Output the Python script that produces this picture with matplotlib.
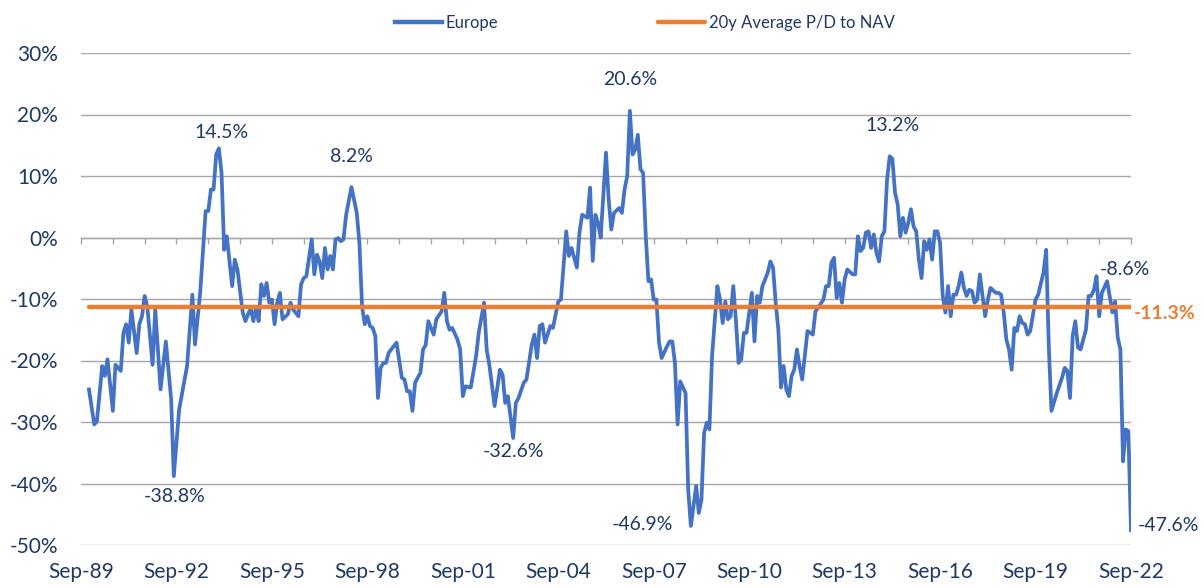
import matplotlib
matplotlib.use("Agg")
import matplotlib.pyplot as plt

# ---- data (months since Sep-1989, premium/discount to NAV in %) ----
month_offset = [
    3, 5, 6, 8, 9, 10, 12, 13, 15, 16, 17, 18, 19, 21, 22, 23, 24, 25, 27, 28,
    30, 32, 34, 35, 37, 40, 42, 43, 45, 47, 48, 49, 50, 51, 52, 53, 54, 55, 57, 58,
    59, 61, 62, 63, 64, 65, 66, 67, 68, 69, 70, 71, 72, 73, 74, 75, 76, 78, 79, 80,
    82, 83, 84, 85, 87, 88, 89, 90, 91, 92, 93, 94, 95, 96, 97, 98, 99, 100, 102, 104,
    105, 106, 107, 108, 109, 110, 111, 112, 113, 114, 115, 116, 117, 119, 121, 122, 123, 124, 125, 126,
    128, 129, 130, 131, 133, 134, 136, 137, 138, 139, 140, 142, 143, 144, 145, 147, 149, 150, 152, 153,
    154, 156, 158, 159, 160, 161, 163, 164, 165, 167, 168, 170, 171, 172, 173, 174, 175, 177, 178, 180,
    181, 183, 184, 185, 187, 188, 189, 191, 192, 193, 194, 195, 196, 198, 199, 200, 201, 203, 204, 205,
    206, 207, 208, 209, 210, 211, 212, 213, 214, 215, 216, 217, 218, 219, 221, 222, 223, 224, 225, 226,
    228, 229, 230, 232, 233, 234, 235, 236, 237, 238, 240, 241, 242, 243, 244, 245, 246, 247, 248, 249,
    250, 251, 253, 254, 255, 256, 257, 259, 260, 261, 262, 263, 264, 265, 266, 267, 268, 269, 270, 271,
    272, 274, 276, 277, 280, 281, 282, 283, 284, 285, 286, 287, 288, 289, 291, 292, 293, 294, 295, 296,
    297, 298, 299, 300, 301, 302, 303, 304, 305, 306, 307, 308, 309, 310, 311, 312, 313, 314, 315, 316,
    317, 318, 319, 320, 321, 322, 323, 324, 325, 326, 327, 328, 329, 330, 331, 332, 333, 334, 335, 336,
    337, 338, 339, 340, 341, 342, 343, 345, 346, 347, 348, 349, 350, 351, 352, 353, 354, 355, 356, 357,
    358, 360, 361, 363, 364, 365, 366, 368, 370, 371, 372, 373, 374, 375, 376, 377, 379, 380, 381, 382,
    383, 384, 385, 387, 389, 390, 391, 392, 393, 394, 395, 396,
]
europe_pd = [
    -24.7, -30.4, -29.9, -20.9, -22.5, -19.8, -28.2, -20.7, -21.7, -15.5, -14.1, -17.1, -11.7, -18.8, -14.1, -12.8, -9.5, -11.2, -20.7, -11.7,
    -24.7, -16.9, -26.3, -38.8, -28.0, -20.9, -9.3, -17.4, -8.7, 4.3, 4.3, 7.8, 7.8, 13.5, 14.5, 10.5, -2.0, 0.2, -7.9, -3.6,
    -5.2, -12.2, -13.6, -12.5, -11.5, -13.6, -11.4, -13.6, -7.6, -9.5, -7.4, -10.6, -10.1, -14.1, -10.6, -9.0, -13.3, -12.5, -10.6, -11.7,
    -12.8, -7.6, -6.6, -6.3, -0.3, -6.0, -2.8, -3.9, -6.6, -1.7, -5.2, -3.0, -5.2, -0.3, -0.1, -0.6, -0.3, 3.7, 8.2, 4.0,
    -0.9, -11.2, -14.1, -12.8, -14.4, -14.7, -16.0, -26.1, -21.2, -20.4, -20.4, -18.8, -18.2, -17.1, -22.8, -23.1, -25.0, -25.0, -28.2, -23.6,
    -22.0, -18.2, -17.5, -13.6, -15.8, -13.3, -12.0, -9.0, -13.6, -15.0, -14.7, -16.6, -18.2, -25.8, -24.2, -24.4, -19.3, -15.5, -10.6, -18.2,
    -20.7, -27.4, -21.5, -22.3, -26.9, -25.8, -32.6, -26.9, -26.1, -23.6, -23.1, -17.4, -15.8, -19.6, -14.4, -14.1, -17.1, -14.4, -14.7, -10.4,
    -10.1, 1.0, -3.0, -1.7, -4.9, 0.8, 3.7, 3.2, 8.1, -3.8, 3.7, 2.4, 0.0, 13.8, 6.2, 1.3, 4.0, 4.8, 4.0, 7.8,
    10.0, 20.6, 13.5, 14.3, 16.7, 11.1, 10.5, 0.2, -7.1, -6.8, -10.1, -10.1, -17.1, -19.6, -17.7, -16.9, -16.9, -20.4, -30.4, -23.4,
    -25.3, -41.0, -46.9, -40.4, -44.8, -42.6, -31.8, -30.1, -31.2, -19.3, -7.9, -10.1, -13.9, -10.4, -13.3, -12.8, -7.9, -13.5, -20.4, -19.8,
    -15.5, -15.5, -9.0, -16.9, -9.5, -10.6, -7.9, -5.7, -3.9, -4.9, -10.6, -15.0, -24.4, -20.9, -24.7, -25.8, -22.5, -21.5, -18.2, -20.9,
    -23.1, -15.2, -15.8, -12.0, -10.1, -7.9, -7.9, -4.1, -3.3, -9.8, -7.4, -10.6, -6.8, -5.2, -6.0, -6.0, 0.2, -2.2, -1.7, 0.8,
    1.0, -1.7, 0.5, -2.5, -3.9, 0.2, 1.0, 9.4, 13.2, 12.8, 7.3, 5.4, 0.2, 3.2, 0.8, 2.4, 4.6, 1.8, 1.0, -3.6,
    -6.6, -0.6, -2.0, -0.3, -3.6, 1.0, 1.0, -0.9, -9.5, -12.2, -7.9, -12.8, -9.3, -9.3, -7.9, -5.7, -8.2, -9.5, -8.5, -8.7,
    -10.6, -10.1, -6.0, -9.5, -12.8, -10.1, -8.2, -9.0, -9.0, -9.3, -12.2, -16.6, -18.2, -21.5, -14.7, -15.2, -12.8, -13.9, -14.1, -15.8,
    -15.2, -10.1, -9.3, -5.7, -2.0, -17.7, -28.2, -25.3, -22.8, -21.2, -21.7, -26.1, -16.0, -13.6, -17.9, -18.2, -15.0, -9.5, -9.5, -8.5,
    -6.3, -12.8, -9.0, -7.1, -12.2, -10.4, -16.3, -18.2, -36.4, -31.2, -31.5, -47.6,
]
avg_pd = -11.3
recent_label_value = -8.6

series_names = ["Europe", "20y Average P/D to NAV"]
year_tick_months = list(range(0, 397, 12))
label_months = list(range(0, 397, 36))
x_labels = ["Sep-89", "Sep-92", "Sep-95", "Sep-98", "Sep-01", "Sep-04",
            "Sep-07", "Sep-10", "Sep-13", "Sep-16", "Sep-19", "Sep-22"]
y_ticks = [-50, -40, -30, -20, -10, 0, 10, 20, 30]

# labelled extremes (months) with pixel offsets for their text
annot_months = [52, 102, 207, 305, 35, 163, 230, 396]
annot_offsets = [(3, 16), (0, 31), (0, 31), (3, 31), (1, -20), (0, -14), (-48, 1), (37, 5)]

# ---- style ----
FONT = "Lato"
TEXT = "#1F3864"
BLUE = "#4472C4"
ORANGE = "#ED7D31"
GRID = "#A6A6A6"
plt.rcParams["font.family"] = [FONT, "DejaVu Sans"]

W, H = 1204, 588
fig = plt.figure(figsize=(W / 100, H / 100), dpi=100)
ax = fig.add_axes([81 / W, 43 / H, 1050 / W, 492 / H])

line_eu, = ax.plot(month_offset, europe_pd, color=BLUE, lw=2.7,
                   solid_joinstyle="round", zorder=3, label=series_names[0])
line_avg, = ax.plot([month_offset[0], month_offset[-1]], [avg_pd, avg_pd],
                    color=ORANGE, lw=3.2, solid_capstyle="round", zorder=4,
                    label=series_names[1])

ax.set_xlim(0, 396)
ax.set_ylim(-50, 30)
ax.set_yticks(y_ticks)
ax.set_yticklabels([f"{v}%" for v in y_ticks])
ax.tick_params(axis="y", length=0, pad=16.5, labelsize=15, labelcolor=TEXT)
ax.yaxis.grid(True, color=GRID, lw=1.0, zorder=0)
ax.set_axisbelow(True)

for s in ["left", "right", "top"]:
    ax.spines[s].set_visible(False)
ax.spines["bottom"].set_position(("data", 0))
ax.spines["bottom"].set_color(GRID)
ax.spines["bottom"].set_linewidth(1.0)
ax.set_xticks(year_tick_months)
ax.tick_params(axis="x", direction="out", length=4, width=1.0, color=GRID,
               labelbottom=False)

sec = ax.secondary_xaxis(0.0)
sec.set_xticks(label_months)
sec.set_xticklabels(x_labels)
sec.tick_params(axis="x", length=0, pad=12, labelsize=15, labelcolor=TEXT)
sec.spines["bottom"].set_visible(False)

# annotations
for m, (dx, dy) in zip(annot_months, annot_offsets):
    v = europe_pd[month_offset.index(m)]
    ax.annotate(f"{v:.1f}%", xy=(m, v), xytext=(dx, dy), textcoords="offset pixels",
                ha="center", va="center", fontsize=14, color=TEXT)
ax.annotate(f"{recent_label_value:.1f}%", xy=(385, recent_label_value), xytext=(23, 21),
            textcoords="offset pixels", ha="center", va="center", fontsize=14, color=TEXT,
            annotation_clip=False)
ax.annotate(f"{avg_pd:.1f}%", xy=(month_offset[-1], avg_pd), xytext=(3, -7),
            textcoords="offset pixels", ha="left", va="center", fontsize=14,
            color=ORANGE, fontweight="bold", annotation_clip=False)

leg = ax.legend(handles=[line_eu, line_avg], loc="center", ncol=2,
                bbox_to_anchor=(645 / W, 1 - 23 / H), bbox_transform=fig.transFigure,
                frameon=False, fontsize=12, handlelength=2.8, handletextpad=0.25,
                columnspacing=9.6, labelcolor=TEXT)
for h in leg.legend_handles:
    h.set_linewidth(3.2)

fig.savefig("out.png", dpi=100)
